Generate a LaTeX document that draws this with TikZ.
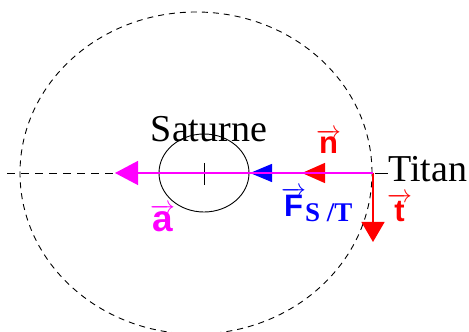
\documentclass[tikz,border=0pt]{standalone}
\usepackage{fontspec}
\setmainfont{Liberation Serif}
\setsansfont{Liberation Sans}
\usepackage{xcolor}
\usepackage{tikz}
\usetikzlibrary{arrows.meta,positioning,calc}

\definecolor{magentaV}{RGB}{255,0,255}
\definecolor{blueV}{RGB}{0,0,255}
\definecolor{redV}{RGB}{255,0,0}

\newcommand{\vecsf}[1]{$\overrightarrow{\textsf{\bfseries #1}}$}

\begin{document}
\begin{tikzpicture}[
  x=1pt, y=1pt,
  lbl/.style={font=\fontsize{38}{40}\selectfont, inner sep=0pt},
  vlbl/.style={font=\fontsize{31}{33}\selectfont, inner sep=0pt},
  orbit/.style={draw, dash pattern=on 6pt off 5pt, line width=0.9pt},
  vect/.style={line width=1.3pt},
]
\useasboundingbox (0,0) rectangle (469,332);
\coordinate (S) at (204,159);
\coordinate (T) at (373,159);
\coordinate (O) at (196,159);
% orbit and planet
\draw[orbit] (O) ellipse [x radius=176, y radius=161];
\draw[line width=0.9pt] (S) ellipse [x radius=45, y radius=39];
\coordinate (tickA) at (204,169);
\coordinate (tickB) at (204,147);
\draw[line width=0.9pt] (tickA) -- (tickB);
\coordinate (axisL) at (7,159);
\coordinate (aTip) at (115,159);
\draw[dash pattern=on 8pt off 6pt, line width=0.9pt] (axisL) -- (aTip);
% vectors at Titan
\coordinate (FTip) at (250,159);
\coordinate (nTip) at (302,159);
\coordinate (tTip) at (373,90);
\draw[vect, blueV, -{Triangle[length=22pt, width=18pt]}] (T) -- (FTip);
\draw[vect, redV, -{Triangle[length=23pt, width=20pt]}] (T) -- (nTip);
\draw[vect, redV, -{Triangle[length=20pt, width=23pt]}] (T) -- (tTip);
\draw[vect, magentaV, -{Triangle[length=23pt, width=24pt]}] (T) -- (aTip);
% labels
\node[lbl, anchor=base] (sat) at (209,190) {Saturne};
\node[lbl, anchor=base west] (titan) at (388,150) {Titan};
\coordinate (T1) at (375,159);
\draw[line width=0.9pt] (T1) -- (titan.west |- T1);
\node[vlbl, anchor=base west, redV] (nlbl) at (316,178) {\vecsf{n}};
\node[vlbl, anchor=base west, blueV] (Flbl) at (281,115) {\vecsf{F}};
\node[anchor=base west, blueV, inner sep=0pt, font=\fontsize{27}{29}\selectfont\bfseries] (sub) at (305,110) {S /T};
\node[vlbl, anchor=base west, redV] (tlbl) at (387,110) {\vecsf{t}};
\node[font=\fontsize{37}{39}\selectfont, inner sep=0pt, anchor=base west, magentaV] (albl) at (150,100) {\vecsf{a}};
\end{tikzpicture}
\end{document}
